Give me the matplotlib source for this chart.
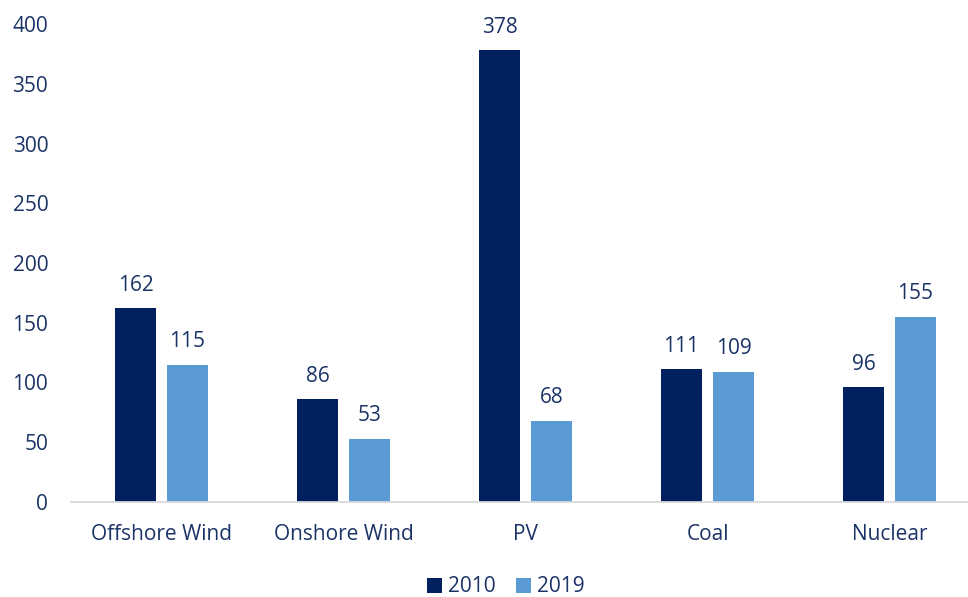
import matplotlib
matplotlib.use("Agg")
import matplotlib.pyplot as plt
import numpy as np

categories = ["Offshore Wind", "Onshore Wind", "PV", "Coal", "Nuclear"]
years = ["2010", "2019"]
values_2010 = [162, 86, 378, 111, 96]
values_2019 = [115, 53, 68, 109, 155]
y_ticks = [0, 50, 100, 150, 200, 250, 300, 350, 400]

dark_blue = "#002060"
light_blue = "#5B9BD5"
text_color = "#1B3366"

plt.rcParams["font.family"] = ["Open Sans", "DejaVu Sans"]
fs = 15

W, H = 968, 597
fig = plt.figure(figsize=(W / 100, H / 100), dpi=100)
left_px, right_px = 70.5, 980.5
bottom_px, top_px = 502, 24
ax = fig.add_axes([left_px / W, (H - bottom_px) / H,
                   (right_px - left_px) / W, (bottom_px - top_px) / H])

x = np.arange(len(categories))
bw = 0.225
off = 0.143
b1 = ax.bar(x - off, values_2010, bw, color=dark_blue, label=years[0])
b2 = ax.bar(x + off, values_2019, bw, color=light_blue, label=years[1])

for bars, vals in ((b1, values_2010), (b2, values_2019)):
    for rect, v in zip(bars, vals):
        ax.annotate(f"{v}", (rect.get_x() + rect.get_width() / 2, v),
                    xytext=(0, 9), textcoords="offset points",
                    ha="center", va="bottom", fontsize=fs, color=text_color)

ax.set_xlim(-0.5, len(categories) - 0.5)
ax.set_ylim(0, 400)
ax.set_yticks(y_ticks)
ax.set_xticks(x)
ax.set_xticklabels(categories)
ax.tick_params(axis="both", length=0, labelsize=fs, labelcolor=text_color)
ax.tick_params(axis="y", pad=16)
ax.tick_params(axis="x", pad=16)

for s in ("top", "right", "left"):
    ax.spines[s].set_visible(False)
ax.spines["bottom"].set_color("#D9D9D9")
ax.spines["bottom"].set_linewidth(1.3)

leg = fig.legend(handles=[b1, b2], labels=years, loc="center",
                 bbox_to_anchor=(506 / W, 1 - 587 / H), ncol=2, frameon=False,
                 fontsize=fs, handlelength=0.7, handleheight=0.7,
                 handletextpad=0.3, columnspacing=1.0)
for t in leg.get_texts():
    t.set_color(text_color)

fig.savefig("out.png", dpi=100)
